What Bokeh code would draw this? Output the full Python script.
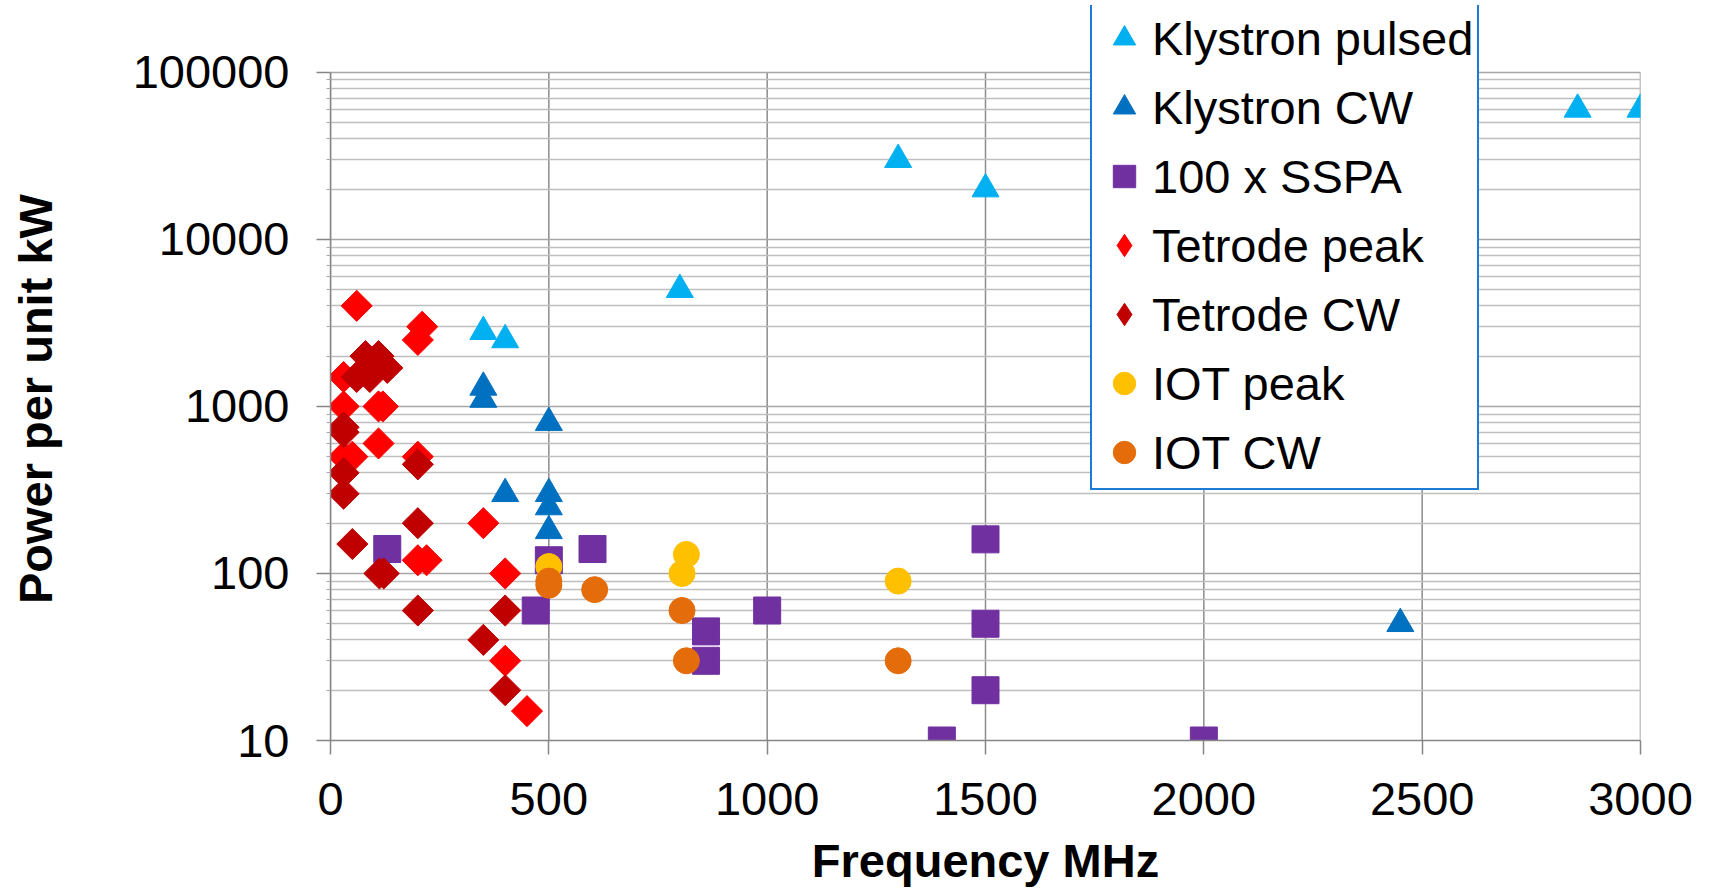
import numpy as np
from bokeh.plotting import figure
from bokeh.models import (FixedTicker, PrintfTickFormatter, Legend, LegendItem, Range1d,
                          LogScale)
from bokeh.embed import file_html
from bokeh.resources import INLINE

# ---- data (Frequency MHz, Power per unit kW) ----
kp_x = [350, 400, 800, 1300, 1500, 2856, 3000]
kp_y = [2800, 2500, 5000, 30000, 20000, 60000, 60000]

kc_x = [350, 350, 400, 500, 500, 500, 500, 2450]
kc_y = [1300, 1100, 300, 800, 300, 250, 180, 50]

ss_x = [130, 470, 500, 600, 860, 860, 1000, 1400, 1500, 1500, 1500, 2000]
ss_y = [140, 60, 120, 140, 45, 30, 60, 10, 160, 50, 20, 10]

tp_x = [60, 210, 200, 30, 30, 110, 120, 30, 50, 110, 200, 350, 200, 220, 400, 400, 450]
tp_y = [4000, 3000, 2500, 1500, 1000, 1000, 1000, 500, 500, 600, 500, 200, 120, 120, 100, 30, 15]

tc_x = [80, 110, 130, 60, 90, 30, 30, 30, 30, 200, 200, 50, 112, 122, 200, 400, 350, 400]
tc_y = [2000, 2000, 1700, 1500, 1500, 750, 700, 400, 300, 450, 200, 150, 100, 100, 60, 60, 40, 20]

ip_x = [500, 815, 805, 1300]
ip_y = [110, 130, 100, 90]

ic_x = [500, 500, 605, 805, 815, 1300]
ic_y = [90, 85, 80, 60, 30, 30]

series_names = ["Klystron pulsed", "Klystron CW", "100 x SSPA", "Tetrode peak",
                "Tetrode CW", "IOT peak", "IOT CW"]

x_ticks = [0, 500, 1000, 1500, 2000, 2500, 3000]
y_ticks = [10, 100, 1000, 10000, 100000]
y_minor = [m * 10 ** e for e in range(1, 5) for m in range(2, 10)]

FONT = "Liberation Sans"
FS = "47px"

# frame extends a little above 100000 so the legend (which sits above the top gridline) is not clipped
p = figure(width=1704, height=889, output_backend="svg", toolbar_location=None,
           x_range=Range1d(0, 3000), y_range=Range1d(10, 10 ** 5.4), y_axis_type="log",
           min_border_left=330, min_border_right=64, min_border_top=5, min_border_bottom=147)
p.outline_line_color = None
p.background_fill_color = "white"
p.border_fill_color = "white"

# range used only to keep legend stand-in glyphs out of view
p.extra_y_ranges = {"legend_only": Range1d(1e8, 1e9)}
p.extra_y_scales = {"legend_only": LogScale()}

# grids
p.xgrid.grid_line_color = None
p.ygrid.ticker = FixedTicker(ticks=y_ticks, minor_ticks=y_minor)
p.ygrid.grid_line_color = "#A6A6A6"
p.ygrid.grid_line_width = 1.5
p.ygrid.minor_grid_line_color = "#BFBFBF"
p.ygrid.minor_grid_line_width = 1.5
# vertical gridlines limited to the 10..100000 span
p.segment(x0=x_ticks, y0=[y_ticks[0]] * len(x_ticks), x1=x_ticks,
          y1=[y_ticks[-1]] * len(x_ticks), line_color="#8C8C8C", line_width=1.5,
          level="underlay")

# axes
xa = p.xaxis[0]
xa.ticker = FixedTicker(ticks=x_ticks)
xa.axis_label = "Frequency MHz"
ya = p.yaxis[0]
ya.ticker = FixedTicker(ticks=y_ticks, minor_ticks=y_minor)
ya.formatter = PrintfTickFormatter(format="%d")
ya.bounds = (10, 100000)
# trailing no-break spaces re-centre the title on the 10..100000 span (frame is taller)
ya.axis_label = "Power per unit kW" + "\u00a0" * 4
for ax in (xa, ya):
    ax.axis_line_color = "#868686"
    ax.axis_line_width = 1.5
    ax.major_tick_line_color = "#868686"
    ax.major_tick_line_width = 1.5
    ax.major_tick_out = 14
    ax.major_tick_in = 0
    ax.major_label_text_font = FONT
    ax.major_label_text_font_size = FS
    ax.major_label_text_color = "black"
    ax.axis_label_text_font = FONT
    ax.axis_label_text_font_size = FS
    ax.axis_label_text_font_style = "bold"
    ax.axis_label_text_color = "black"
xa.minor_tick_line_color = None
xa.major_label_standoff = 28
xa.axis_label_standoff = 16
ya.minor_tick_line_color = "#A6A6A6"
ya.minor_tick_out = 4
ya.minor_tick_in = 0
ya.major_label_standoff = 27
ya.axis_label_standoff = 68

# series
r_kp = p.scatter(kp_x, kp_y, marker="triangle", size=27, color="#00B0F0")
r_kc = p.scatter(kc_x, kc_y, marker="triangle", size=27, color="#0070C0")
r_ss = p.scatter(ss_x, ss_y, marker="square", size=27, color="#7030A0")
r_tp = p.scatter(tp_x, tp_y, marker="square", angle=np.pi / 4, size=22, color="#FF0000")
r_tc = p.scatter(tc_x, tc_y, marker="square", angle=np.pi / 4, size=22, color="#C00000")
r_ip = p.scatter(ip_x, ip_y, marker="circle", size=26, color="#FFC000")
r_ic = p.scatter(ic_x, ic_y, marker="circle", size=26, color="#E46C0A")

# legend stand-ins (out of view) so the tetrode entries show a diamond swatch
l_tp = p.scatter(tp_x, tp_y, marker="diamond", size=22, color="#FF0000",
                 y_range_name="legend_only")
l_tc = p.scatter(tc_x, tc_y, marker="diamond", size=22, color="#C00000",
                 y_range_name="legend_only")

rends = [r_kp, r_kc, r_ss, l_tp, l_tc, r_ip, r_ic]
items = [LegendItem(label=n, renderers=[r]) for n, r in zip(series_names, rends)]
legend = Legend(items=items, location=(760, 250), orientation="vertical",
                glyph_width=56, glyph_height=64, spacing=5, padding=4, margin=0,
                label_standoff=0, label_text_font=FONT, label_text_font_size=FS,
                label_text_color="black", label_text_baseline="middle",
                border_line_color="#1C7CD5", border_line_width=2, border_line_alpha=1.0,
                background_fill_color="white", background_fill_alpha=1.0)
p.add_layout(legend, "center")

open("out.html", "w").write(file_html(p, INLINE))
